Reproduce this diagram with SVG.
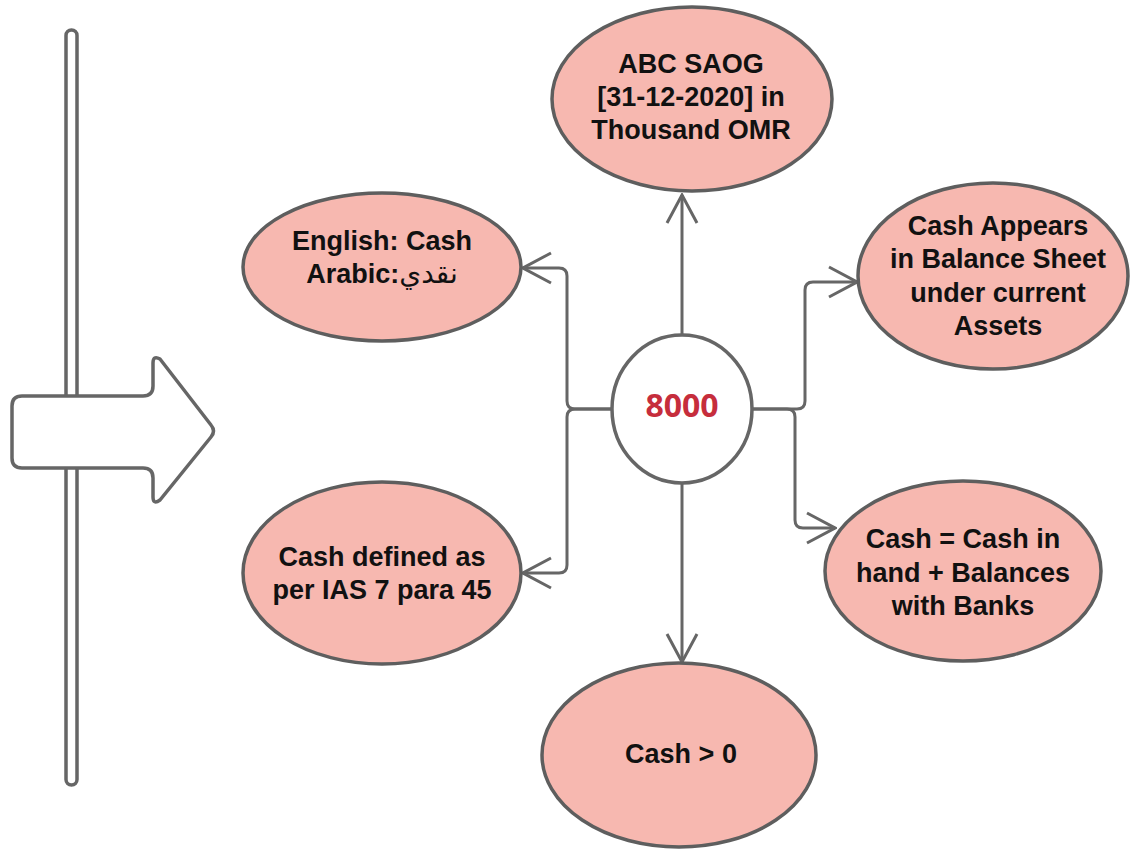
<svg xmlns="http://www.w3.org/2000/svg" width="1136" height="850" viewBox="0 0 1136 850">
<defs>
<style>
.node{fill:#f7b8b0;stroke:#5e5e5e;stroke-width:3.5}
.lbl{font-family:"Liberation Sans",Arial,sans-serif;font-weight:bold;font-size:27px;fill:#111;text-anchor:middle}
.ar{font-family:"DejaVu Sans","Noto Sans",sans-serif;font-weight:normal;font-size:28px}
.conn{fill:none;stroke:#666;stroke-width:3;marker-end:url(#arr)}
.shape{fill:#fff;stroke:#666;stroke-width:3.5}
</style>
<marker id="arr" viewBox="0 0 32 34" refX="30" refY="17" markerWidth="32" markerHeight="34" markerUnits="userSpaceOnUse" orient="auto">
<path d="M2,2 L30,17 L2,32" fill="none" stroke="#666" stroke-width="3"/>
</marker>
</defs>
<rect width="1136" height="850" fill="#fff"/>
<g id="bar">
<rect class="shape" x="66" y="30" width="11" height="755" rx="5.5"/>
</g>
<g id="big-arrow">
<path class="shape" d="M22,396 L143,396 Q153,396 153,386 L153,363 Q153,355 160,359 L211,425 Q216,431 211,437 L160,500 Q153,505 153,497 L153,478 Q153,468 143,468 L22,468 Q12,468 12,458 L12,406 Q12,396 22,396 Z"/>
</g>
<g id="connectors">
<path class="conn" d="M682,335 V195"/>
<path class="conn" d="M682,484 V662"/>
<path class="conn" d="M612,409 H575 Q567,409 567,401 V276 Q567,268 559,268 H523"/>
<path class="conn" d="M612,409 H575 Q567,409 567,417 V565 Q567,573 559,573 H523"/>
<path class="conn" d="M752,409 H797 Q805,409 805,401 V290 Q805,282 813,282 H857"/>
<path class="conn" d="M752,409 H787 Q795,409 795,417 V520 Q795,528 803,528 H835"/>
</g>
<g id="center">
<ellipse cx="682" cy="409" rx="70" ry="74" fill="#fff" stroke="#666" stroke-width="3.5"/>
<text x="682" y="417" text-anchor="middle" font-family="'Open Sans','Liberation Sans',sans-serif" font-weight="bold" font-size="32" fill="#c62d3c">8000</text>
</g>
<g id="n-top">
<ellipse class="node" cx="692" cy="99" rx="140" ry="92"/>
<text class="lbl"><tspan x="691" y="73">ABC SAOG</tspan><tspan x="691" y="106">[31-12-2020] in</tspan><tspan x="691" y="139">Thousand OMR</tspan></text>
</g>
<g id="n-names">
<ellipse class="node" cx="382" cy="267" rx="139" ry="74"/>
<text class="lbl"><tspan x="382" y="250">English: Cash</tspan><tspan x="382" y="283">Arabic:<tspan class="ar">نقدي</tspan></tspan></text>
</g>
<g id="n-balance">
<ellipse class="node" cx="993" cy="276" rx="135" ry="93"/>
<text class="lbl"><tspan x="998" y="235">Cash Appears</tspan><tspan x="998" y="268">in Balance Sheet</tspan><tspan x="998" y="302">under current</tspan><tspan x="998" y="335">Assets</tspan></text>
</g>
<g id="n-ias">
<ellipse class="node" cx="382" cy="573" rx="139" ry="91"/>
<text class="lbl"><tspan x="382" y="566">Cash defined as</tspan><tspan x="382" y="599">per IAS 7 para 45</tspan></text>
</g>
<g id="n-definition">
<ellipse class="node" cx="963" cy="571" rx="138" ry="90"/>
<text class="lbl"><tspan x="963" y="548">Cash = Cash in</tspan><tspan x="963" y="582">hand + Balances</tspan><tspan x="963" y="615">with Banks</tspan></text>
</g>
<g id="n-positive">
<ellipse class="node" cx="679" cy="755" rx="137" ry="92"/>
<text class="lbl" x="681" y="763">Cash &gt; 0</text>
</g>
</svg>
